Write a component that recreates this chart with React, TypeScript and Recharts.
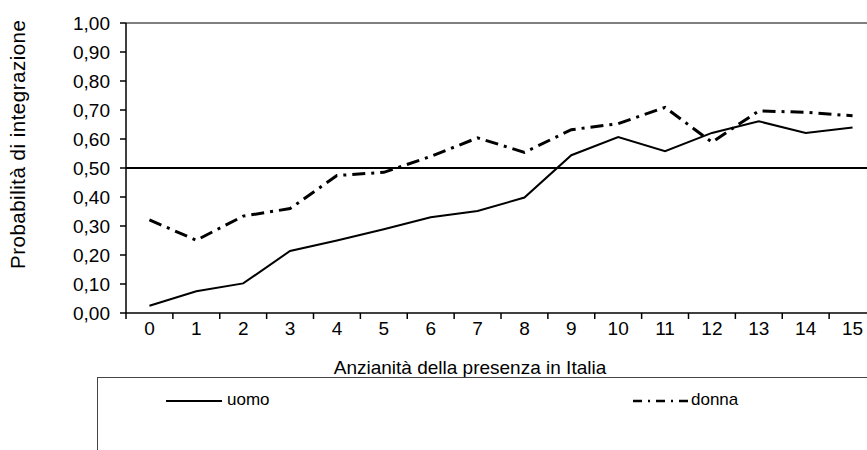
import { LineChart, Line, XAxis, YAxis, ReferenceLine, Legend } from 'recharts';

const anni = ['0', '1', '2', '3', '4', '5', '6', '7', '8', '9', '10', '11', '12', '13', '14', '15'];
const uomo = [0.025, 0.075, 0.102, 0.214, 0.25, 0.289, 0.33, 0.352, 0.398, 0.544, 0.607, 0.558, 0.621, 0.661, 0.621, 0.64];
const donna = [0.321, 0.251, 0.334, 0.36, 0.474, 0.485, 0.54, 0.604, 0.554, 0.632, 0.653, 0.709, 0.589, 0.697, 0.692, 0.68];
const yTicks = [0, 0.1, 0.2, 0.3, 0.4, 0.5, 0.6, 0.7, 0.8, 0.9, 1];

const rows = anni.map((a, i) => ({ anni: a, uomo: uomo[i], donna: donna[i] }));

const FONT = '"Liberation Sans", Arial, sans-serif';
const DASH = '13 6 3 6';
const BAND = 750 / anni.length;

function fmt(v: number) {
  return v.toFixed(2).replace('.', ',');
}

// Excel draws the tick marks between categories, with the label in the middle
function CatTick(props: any) {
  const { x, y, payload, index } = props;
  const last = index === anni.length - 1;
  return (
    <g>
      <line x1={x - BAND / 2} y1={y} x2={x - BAND / 2} y2={y + 6} stroke="#000" strokeWidth={1.5} />
      {last && <line x1={x + BAND / 2} y1={y} x2={x + BAND / 2} y2={y + 6} stroke="#000" strokeWidth={1.5} />}
      <text x={x} y={y + 22} textAnchor="middle" fontSize={19} fill="#000">{payload.value}</text>
    </g>
  );
}

function LegendBox() {
  return (
    <div style={{ marginLeft: 97, height: 72, borderTop: '1.5px solid #444', borderLeft: '1.5px solid #444', position: 'relative', fontFamily: FONT, fontSize: 17 }}>
      <svg width={60} height={6} style={{ position: 'absolute', left: 68, top: 20 }}>
        <line x1={0} y1={3} x2={56} y2={3} stroke="#000" strokeWidth={2} />
      </svg>
      <span style={{ position: 'absolute', left: 129, top: 12 }}>uomo</span>
      <svg width={60} height={6} style={{ position: 'absolute', left: 535, top: 20 }}>
        <line x1={0} y1={3} x2={56} y2={3} stroke="#000" strokeWidth={2.5} strokeDasharray="9 6 2 6" />
      </svg>
      <span style={{ position: 'absolute', left: 593, top: 12 }}>donna</span>
    </div>
  );
}

export default function App() {
  return (
    <div style={{ position: 'absolute', left: 0, top: 0, width: 867, height: 450, overflow: 'hidden', background: '#fff' }}>
      <LineChart width={880} height={450} data={rows} margin={{ top: 23, right: 4, left: 0, bottom: 0 }} style={{ fontFamily: FONT }}>
        <XAxis
          dataKey="anni"
          height={64}
          padding={{ left: BAND / 2, right: BAND / 2 }}
          stroke="#000"
          strokeWidth={1.5}
          tickLine={false}
          tickSize={0}
          tickMargin={0}
          interval={0}
          tick={<CatTick />}
          label={() => (
            <text x={470} y={374} textAnchor="middle" fontSize={19} fill="#000">Anzianità della presenza in Italia</text>
          )}
        />
        <YAxis
          width={126}
          domain={[0, 1]}
          ticks={yTicks}
          tickFormatter={fmt}
          stroke="#000"
          strokeWidth={1.5}
          tickSize={6}
          tickMargin={10}
          tick={{ fill: '#000', fontSize: 19 }}
          label={() => (
            <text x={0} y={0} transform="translate(25 269) rotate(-90)" textAnchor="start" fontSize={20.5} letterSpacing={0.5} fill="#000">Probabilità di integrazione</text>
          )}
        />
        <ReferenceLine y={1} stroke="#808080" strokeWidth={2} />
        <ReferenceLine y={0.5} stroke="#000" strokeWidth={2} />
        <Line dataKey="uomo" stroke="#000" strokeWidth={2} dot={false} isAnimationActive={false} />
        <Line dataKey="donna" stroke="#000" strokeWidth={3} strokeDasharray={DASH} dot={false} isAnimationActive={false} />
        <Legend verticalAlign="bottom" wrapperStyle={{ left: 0, bottom: 0, width: 880 }} content={() => <LegendBox />} />
      </LineChart>
    </div>
  );
}
